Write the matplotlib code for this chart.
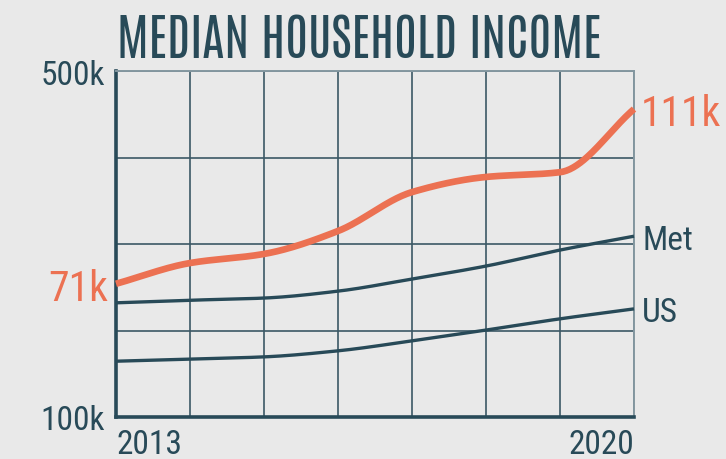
import matplotlib
matplotlib.use("Agg")
import matplotlib.pyplot as plt
import numpy as np

# ---- data (thousands of dollars) ----
years = [2013, 2014, 2015, 2016, 2017, 2018, 2019, 2020]
local_income = [70.8, 75.6, 77.7, 83.0, 92.0, 95.5, 96.6, 111.2]
met_income = [66.4, 67.0, 67.5, 69.1, 71.9, 74.9, 78.6, 81.8]
us_income = [52.9, 53.4, 53.9, 55.3, 57.6, 60.1, 62.7, 65.0]
y_ticks = [40, 60, 80, 100, 120]
y_tick_labels = ["100k", "", "", "", "500k"]
x_tick_labels = ["2013", "", "", "", "", "", "", "2020"]
series_labels = ["Met", "US"]
title = "MEDIAN HOUSEHOLD INCOME"

BG = "#e9e9e9"
DARK = "#284a58"
ORANGE = "#ec7152"
GRIDC = "#3c5866"
EDGE = "#8497a0"
FONT = "Roboto Condensed"
TITLE_FONT = "Antonio"


def pchip(x, y, n=300):
    x = np.asarray(x, float)
    y = np.asarray(y, float)
    h = np.diff(x)
    d = np.diff(y) / h
    m = np.zeros_like(y)
    for k in range(1, len(x) - 1):
        if d[k - 1] * d[k] > 0:
            w1 = 2 * h[k] + h[k - 1]
            w2 = h[k] + 2 * h[k - 1]
            m[k] = (w1 + w2) / (w1 / d[k - 1] + w2 / d[k])
    m[0] = d[0]
    m[-1] = d[-1]
    xs = np.linspace(x[0], x[-1], n)
    idx = np.clip(np.searchsorted(x, xs) - 1, 0, len(x) - 2)
    t = (xs - x[idx]) / h[idx]
    h00 = 2 * t**3 - 3 * t**2 + 1
    h10 = t**3 - 2 * t**2 + t
    h01 = -2 * t**3 + 3 * t**2
    h11 = t**3 - t**2
    ys = h00 * y[idx] + h10 * h[idx] * m[idx] + h01 * y[idx + 1] + h11 * h[idx] * m[idx + 1]
    return xs, ys


fig = plt.figure(figsize=(7.26, 4.6), dpi=100, facecolor=BG)
ax = fig.add_axes([116 / 726, 1 - 418 / 460, (634 - 116) / 726, (418 - 72) / 460])
ax.set_facecolor(BG)
ax.set_xlim(years[0], years[-1])
ax.set_ylim(y_ticks[0], y_ticks[-1])

ax.set_yticks(y_ticks)
ax.set_yticklabels(y_tick_labels)
ax.set_xticks(years)
ax.set_xticklabels(x_tick_labels)
ax.grid(True, color=GRIDC, lw=1.2, zorder=0)
ax.set_axisbelow(True)
ax.tick_params(length=0)
ax.tick_params(axis="y", pad=8, labelsize=24, labelcolor=DARK)
ax.tick_params(axis="x", pad=8, labelsize=24, labelcolor=DARK)
for lab in ax.get_yticklabels() + ax.get_xticklabels():
    lab.set_family(FONT)
xl = ax.get_xticklabels()
xl[0].set_ha("left")
xl[-1].set_ha("right")

for s in ["left", "bottom"]:
    ax.spines[s].set_color(DARK)
    ax.spines[s].set_linewidth(2.6)
for s in ["top", "right"]:
    ax.spines[s].set_color(EDGE)
    ax.spines[s].set_linewidth(1.4)

for vals in [us_income, met_income]:
    xs, ys = pchip(years, vals)
    ax.plot(xs, ys, color=DARK, lw=2.4, solid_capstyle="butt", zorder=3, clip_on=False)
xs, ys = pchip(years, local_income)
ax.plot(xs, ys, color=ORANGE, lw=4.8, solid_capstyle="butt", zorder=4, clip_on=False)

ax.annotate(f"{round(local_income[0])}k", (years[0], local_income[0]), xytext=(-6, 0),
            textcoords="offset points", ha="right", va="center_baseline",
            fontsize=30, color=ORANGE, family=FONT, annotation_clip=False)
ax.annotate(f"{round(local_income[-1])}k", (years[-1], local_income[-1]), xytext=(5, 0),
            textcoords="offset points", ha="left", va="center_baseline",
            fontsize=30, color=ORANGE, family=FONT, annotation_clip=False)
for lab, vals in zip(series_labels, [met_income, us_income]):
    ax.annotate(lab, (years[-1], vals[-1]), xytext=(6, 0),
                textcoords="offset points", ha="left", va="center_baseline",
                fontsize=24, color=DARK, family=FONT, annotation_clip=False)

fig.text(117 / 726, 1 - 58 / 460, title, ha="left", va="baseline",
         fontsize=36, color=DARK, family=TITLE_FONT, fontweight="light")

fig.savefig("out.png", dpi=100, facecolor=BG)
